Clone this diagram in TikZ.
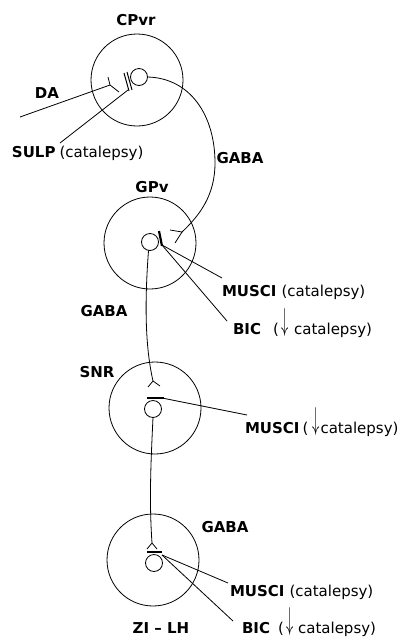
\documentclass[tikz,border=0pt]{standalone}
\usepackage{fontspec}
\setmainfont{DejaVu Sans}
\newcommand{\darr}{\raisebox{4pt}{\scalebox{1}[2.2]{$\downarrow$}}}
\begin{document}
\begin{tikzpicture}[x=1pt,y=-1pt,
  every node/.style={inner sep=0pt, outer sep=0pt},
  conn/.style={line width=0.8pt},
  bigc/.style={circle, draw, line width=0.8pt, minimum size=92pt},
  smallc/.style={circle, draw, line width=0.8pt, minimum size=17pt},
  lab/.style={font=\fontsize{15}{18}\selectfont\bfseries},
  barline/.style={line width=2.2pt},
  forkline/.style={line width=0.8pt}]
\useasboundingbox (0,0) rectangle (406,638);

% cells
\node[bigc] (cp) at (137,80) {};
\node[smallc] (cps) at (139,77) {};
\node[bigc] (gp) at (150,243) {};
\node[smallc] (gps) at (150,242) {};
\node[bigc] (sn) at (155,408) {};
\node[smallc] (sns) at (153,409) {};
\node[bigc] (zi) at (153,560) {};
\node[smallc] (zis) at (154,563) {};

% labels
\node[lab] (lcp) at (136,20) {CPvr};
\node[lab] (lda) at (47,93) {DA};
\node[lab, anchor=base west] (lsulp) at (12,157) {SULP\hspace{4pt}{\mdseries(catalepsy)}};
\node[lab] (lgaba1) at (240,158) {GABA};
\node[lab] (lgp) at (152,187) {GPv};
\node[lab, anchor=base west] (lm1) at (222,296) {MUSCI\hspace{5pt}{\mdseries(catalepsy)}};
\node[lab, anchor=base west] (lb1) at (233,334) {BIC\hspace{12pt}{\mdseries(\hspace{3pt}\darr\hspace{5pt}catalepsy)}};
\node[lab] (lgaba2) at (104,311) {GABA};
\node[lab] (lsn) at (97,372) {SNR};
\node[lab, anchor=base west] (lm2) at (245,433) {MUSCI\hspace{3pt}{\mdseries(\hspace{4pt}\darr\hspace{1pt}catalepsy)}};
\node[lab] (lgaba3) at (225,527) {GABA};
\node[lab, anchor=base west] (lm3) at (230,596) {MUSCI\hspace{5pt}{\mdseries(catalepsy)}};
\node[lab, anchor=base west] (lb3) at (242,633) {BIC\hspace{8pt}{\mdseries(\hspace{3pt}\darr\hspace{4pt}catalepsy)}};
\node[lab] (lzi) at (161,628) {ZI -- LH};

% points
\coordinate (daend) at (20,117);
\coordinate (dafork) at (110,85);
\coordinate (sulpend) at (60,143);
\coordinate (cpbar) at (128,90);
\coordinate (gpfork) at (182,232);
\coordinate (gpbar) at (162,245);
\coordinate (snfork) at (153,381);
\coordinate (snbar) at (162,398);
\coordinate (zifork) at (152,543);
\coordinate (zibar) at (162,555);
\coordinate (lm1end) at (222,278);
\coordinate (lb1end) at (227,321);
\coordinate (lm2end) at (247,415);
\coordinate (lm3end) at (228,583);
\coordinate (lb3end) at (233,621);

% CPvr
\draw[conn] (daend) -- (dafork);
\draw[forkline] (dafork) -- ++(-2,-8) (dafork) -- ++(9,7);
\draw[conn] (sulpend) -- (cpbar);
\draw[line width=1pt] (124,73) -- (129,91);
\draw[line width=1pt] (127,72) -- (132,90);
\draw[conn] (cps.east) .. controls (190,78) and (215,115) .. (215,163)
  .. controls (215,195) and (200,215) .. (gpfork);

% GPv
\draw[forkline] (gpfork) -- ++(-12,-2) (gpfork) -- ++(-7,11);
\draw[barline] (159,231) -- (162,246);
\draw[conn] (gpbar) -- (lm1end);
\draw[conn] (gpbar) -- (lb1end);
\draw[conn] (gps.-100) .. controls (144,310) and (146,350) .. (snfork);

% SNR
\draw[forkline] (snfork) -- ++(-5,6) (snfork) -- ++(7,5);
\draw[barline] (147,398) -- (164,398);
\draw[conn] (snbar) -- (lm2end);
\draw[conn] (sns.south) .. controls (151,460) and (149,500) .. (zifork);

% ZI-LH
\draw[forkline] (zifork) -- ++(-5,6) (zifork) -- ++(5,6);
\draw[barline] (147,552) -- (162,552);
\draw[conn] (zibar) -- (lm3end);
\draw[conn] (zibar) -- (lb3end);
\end{tikzpicture}
\end{document}
